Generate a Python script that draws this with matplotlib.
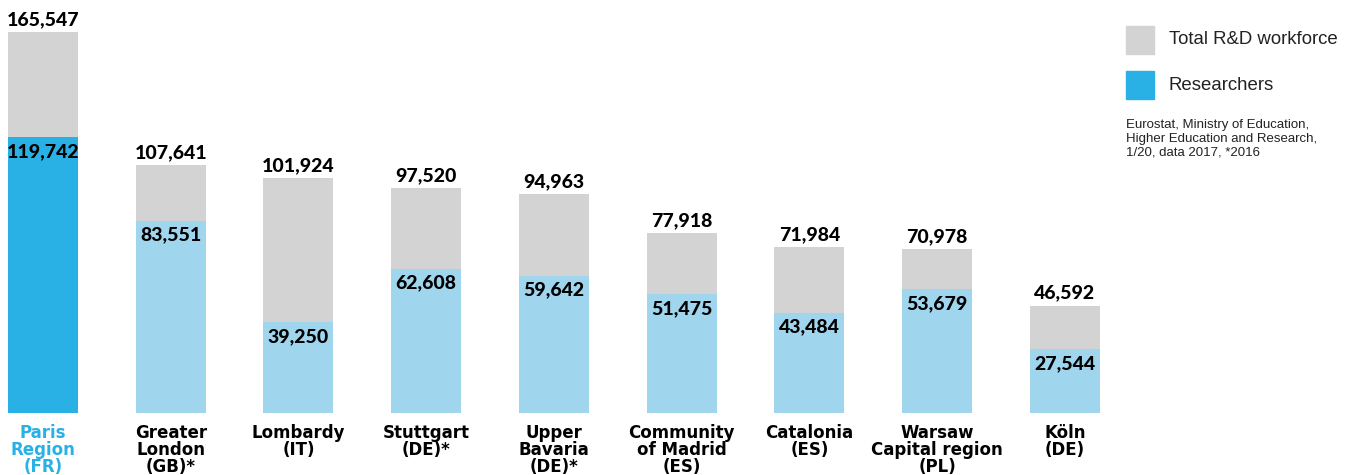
import matplotlib
matplotlib.use("Agg")
import matplotlib.pyplot as plt
from matplotlib.patches import Rectangle
import numpy as np

regions = ["Paris\nRegion\n(FR)", "Greater\nLondon\n(GB)*", "Lombardy\n(IT)", "Stuttgart\n(DE)*",
           "Upper\nBavaria\n(DE)*", "Community\nof Madrid\n(ES)", "Catalonia\n(ES)",
           "Warsaw\nCapital region\n(PL)", "Köln\n(DE)"]
total_rd = [165547, 107641, 101924, 97520, 94963, 77918, 71984, 70978, 46592]
researchers = [119742, 83551, 39250, 62608, 59642, 51475, 43484, 53679, 27544]

GREY = "#d3d3d3"
BLUE = "#29b1e5"
LIGHT = "#9fd6ed"
NUMFONT = "Lato"
CATFONT = "DejaVu Sans"

W, H = 1349, 475
fig = plt.figure(figsize=(W / 100, H / 100), dpi=100)
base = 412.7
ax = fig.add_axes([0, (H - base) / H, 1, base / H])
step = 127.75
x = np.arange(len(regions))
ax.set_xlim(-43 / step, -43 / step + W / step)
ax.set_ylim(0, base / 0.0023)

bw = 70 / step
cols = [BLUE if i == 0 else LIGHT for i in x]
ax.bar(x, total_rd, bw, color=GREY, zorder=1)
ax.bar(x, researchers, bw, color=cols, zorder=2)

for i in x:
    ax.annotate(f"{total_rd[i]:,}", (i, total_rd[i]), xytext=(0, 3), textcoords="offset points",
                ha="center", va="bottom", fontsize=14, fontweight="black", family=NUMFONT)
    ax.annotate(f"{researchers[i]:,}", (i, researchers[i]), xytext=(0, -4), textcoords="offset points",
                ha="center", va="top", fontsize=14, fontweight="black", family=NUMFONT)

ax.set_xticks(x)
ax.set_xticklabels(regions, fontsize=12, fontweight="bold", family=CATFONT, linespacing=0.92)
ax.get_xticklabels()[0].set_color(BLUE)
ax.tick_params(axis="x", length=0, pad=8)
ax.set_yticks([])
for s in ax.spines.values():
    s.set_visible(False)

# legend + source, drawn by hand
for yy, c, lab in [(26, GREY, "Total R&D workforce"), (71, BLUE, "Researchers")]:
    fig.add_artist(Rectangle((1126 / W, 1 - (yy + 28) / H), 28 / W, 28 / H,
                             transform=fig.transFigure, color=c))
    fig.text(1169 / W, 1 - (yy + 14) / H, lab, fontsize=13.4, family="Liberation Sans",
             va="center", ha="left", color="#222222")
fig.text(1126 / W, 1 - 119 / H,
         "Eurostat, Ministry of Education,\nHigher Education and Research,\n1/20, data 2017, *2016",
         fontsize=9.5, family="Liberation Sans", va="top", ha="left", color="#222222", linespacing=1.2)

fig.savefig("out.png", dpi=100)
